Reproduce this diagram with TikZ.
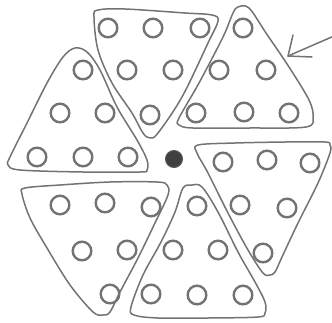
\documentclass[tikz,border=0pt]{standalone}
\begin{document}
\begin{tikzpicture}[x=1pt,y=-1pt,
  tri/.style={draw=black!55,line width=1.5pt,line join=round},
  hole/.style={draw=black!55,line width=2.4pt},
  hub/.style={fill=black!75,draw=black!65,line width=1pt},
  pointer/.style={draw=black!55,line width=1.5pt,line cap=round,line join=round}]
\useasboundingbox (0,0) rectangle (332,322);
% triangles (hand-drawn outlines)
\draw[tri] plot[smooth cycle,tension=0.55] coordinates {(98,10) (125,9) (185,13) (212,15) (218,21) (208,43) (182,97) (158,133) (150,138) (143,133) (132,113) (112,83) (98,50) (94,17)};
\draw[tri] plot[smooth cycle,tension=0.55] coordinates {(238,7) (249,8) (266,33) (289,67) (309,100) (313,117) (306,127) (249,128) (193,128) (179,125) (179,118) (199,83) (223,37) (233,13)};
\draw[tri] plot[smooth cycle,tension=0.55] coordinates {(75,48) (87,52) (100,70) (117,107) (137,140) (147,160) (147,170) (140,172) (83,172) (20,170) (8,165) (10,157) (27,123) (47,83) (63,57)};
\draw[tri] plot[smooth cycle,tension=0.55] coordinates {(198,145) (235,143) (285,142) (325,142) (330,145) (330,153) (318,183) (298,223) (282,257) (275,272) (270,275) (263,273) (248,250) (228,213) (208,173) (197,153)};
\draw[tri] plot[smooth cycle,tension=0.55] coordinates {(25,188) (60,185) (110,182) (157,182) (167,185) (168,195) (154,225) (138,258) (120,292) (110,312) (103,315) (93,312) (70,285) (47,248) (30,218) (22,194)};
\draw[tri] plot[smooth cycle,tension=0.55] coordinates {(183,188) (192,185) (202,187) (218,212) (238,252) (255,282) (265,302) (265,313) (258,317) (208,318) (158,318) (134,315) (131,307) (143,275) (161,242) (175,212)};
% holes
\foreach \p in {(108,28),(153,28),(200,28),(127,70),(173,70),(150,115)}
  \draw[hole] \p circle (9.3);
\foreach \p in {(243,28),(219,70),(266,70),(196,113),(244,112),(289,113)}
  \draw[hole] \p circle (9.3);
\foreach \p in {(83,70),(60,113),(105,113),(37,157),(83,157),(128,157)}
  \draw[hole] \p circle (9.3);
\foreach \p in {(223,162),(267,160),(310,163),(240,205),(287,208),(263,253)}
  \draw[hole] \p circle (9.3);
\foreach \p in {(60,205),(105,203),(151,207),(82,251),(127,250),(110,294)}
  \draw[hole] \p circle (9.3);
\foreach \p in {(197,206),(173,250),(218,250),(151,294),(197,295),(243,295)}
  \draw[hole] \p circle (9.3);
% centre
\node[hub,circle,minimum size=17pt,inner sep=0pt] (c) at (174,159) {};
% arrow
\coordinate (from) at (334,36);
\coordinate (tip) at (288,56);
\coordinate (w1) at (293,35);
\coordinate (w2) at (312,57);
\draw[pointer] (from) -- (tip);
\draw[pointer] (w1) -- (tip) -- (w2);
\end{tikzpicture}
\end{document}
